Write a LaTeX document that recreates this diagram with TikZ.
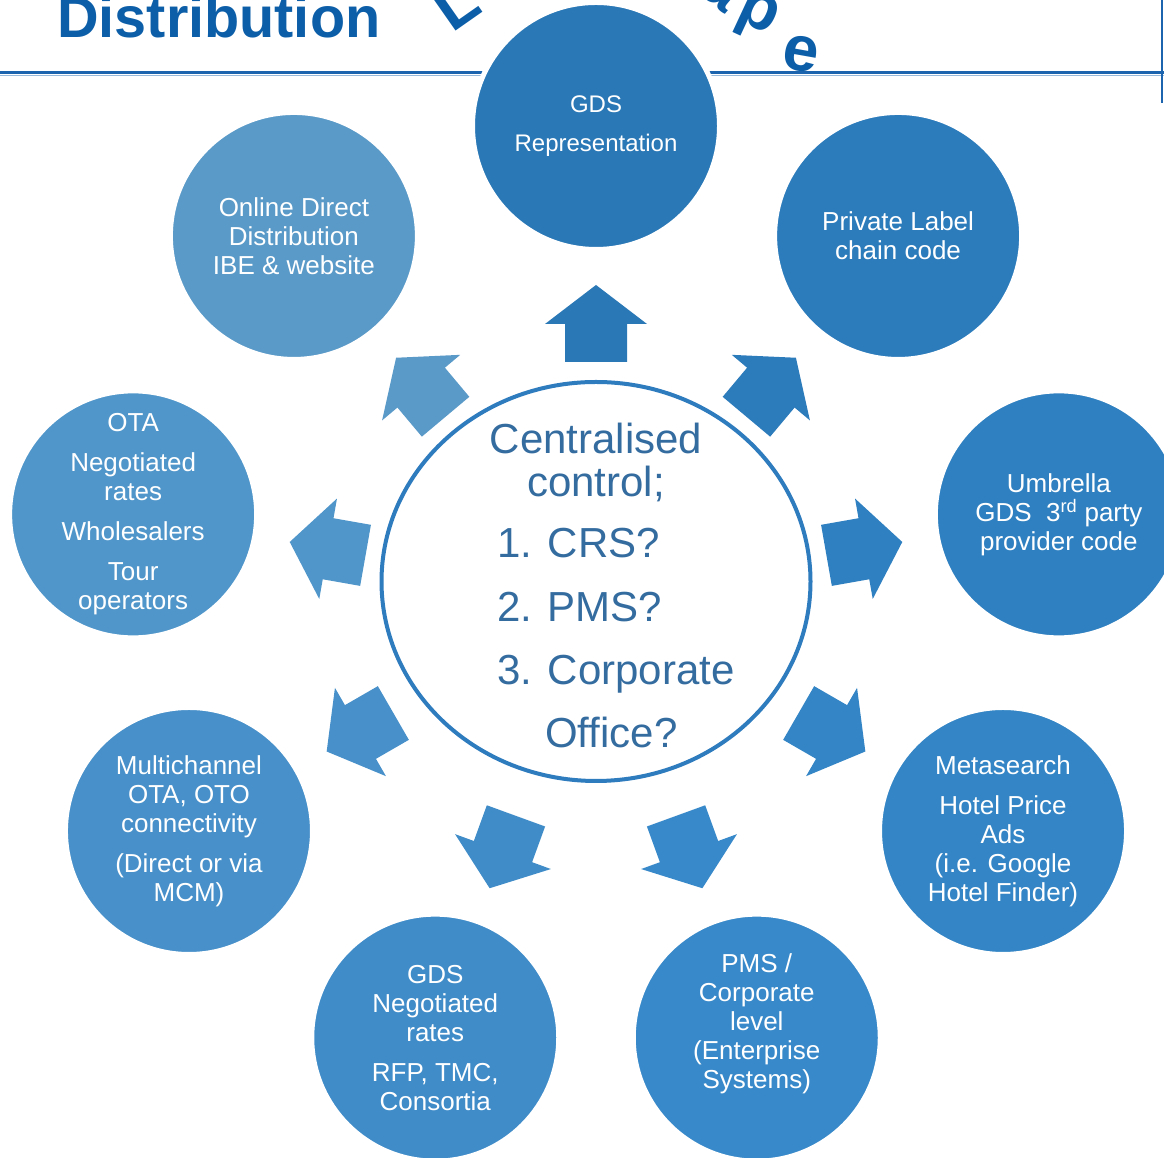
\documentclass[tikz,border=0pt]{standalone}
\usepackage{fontspec}
\setmainfont{Liberation Sans}
\usetikzlibrary{shapes.geometric}

\definecolor{titleblue}{RGB}{12,94,168}
\definecolor{ruleblue}{RGB}{28,100,174}
\definecolor{ringblue}{RGB}{46,123,190}
\definecolor{hubtext}{RGB}{52,108,160}
\definecolor{cgdsrep}{RGB}{42,120,182}
\definecolor{cprivate}{RGB}{44,123,187}
\definecolor{cumbrella}{RGB}{47,128,192}
\definecolor{cmeta}{RGB}{51,133,197}
\definecolor{cpms}{RGB}{56,137,201}
\definecolor{cgdsneg}{RGB}{63,140,201}
\definecolor{cmulti}{RGB}{71,144,201}
\definecolor{cota}{RGB}{80,150,202}
\definecolor{conline}{RGB}{90,154,200}

\begin{document}
\begin{tikzpicture}[x=1pt, y=1pt,
    bubble/.style={circle, fill=#1, draw=white, line width=5pt, minimum size=247pt,
      inner sep=0pt, text=white, align=center, font=\fontsize{26}{29}\selectfont},
    bubbletext/.style={inner sep=0pt, text=white, align=center, font=\fontsize{26}{29}\selectfont},
    wave/.style={inner sep=0pt, text=titleblue, font=\fontsize{64}{64}\selectfont\bfseries},
    hubline/.style={inner sep=0pt, text=hubtext, font=\fontsize{42}{48}\selectfont}]
    \useasboundingbox (0,0) rectangle (1164,1158);

    % heading strip
    \node[anchor=base west, inner sep=0pt, text=titleblue, font=\fontsize{57.6}{60}\selectfont\bfseries] (title) at (57,1120) {Distribution};
    \node[wave, anchor=base west, rotate=35] (wordL) at (452,1124) {L};
    \node[wave, rotate=-40] (worda) at (722,1168) {a};
    \node[wave, rotate=-25] (wordp) at (757,1141) {p};
    \node[wave, rotate=-10] (worde) at (801,1104) {e};
    \draw[ruleblue!45, line width=1.5pt] (0,1082.5) -- (1164,1082.5);
    \draw[ruleblue, line width=2.5pt] (0,1085.5) -- (1164,1085.5);
    \draw[ruleblue, line width=2pt] (1162,1158) -- (1162,1055);

    \begin{scope}[shift={(596,562)}]
        % block arrows
        \foreach \ang/\col in {90/cgdsrep, 50/cprivate, 10/cumbrella, -30/cmeta, -70/cpms,
                               -110/cgdsneg, -150/cmulti, 170/cota, 130/conline}
            \fill[\col, rotate=\ang] (234,-31) -- (272,-31) -- (272,-51) -- (311,0)
                -- (272,51) -- (272,31) -- (234,31) -- cycle;

        % outer circles
        \node[bubble=cgdsrep, font=\fontsize{24}{29}\selectfont] (gdsrep) at (90:470) {GDS\\[10pt]Representation};
        \node[bubble=cprivate] (private) at (50:470) {Private Label\\chain code};
        \node[bubble=cumbrella] (umbrella) at (10:470) {Umbrella\\GDS\ \ 3\textsuperscript{rd} party\\provider code};
        \node[bubble=cmeta] (meta) at (-30:470) {Metasearch\\[11pt]Hotel Price\\Ads\\(i.e. Google\\Hotel Finder)};
        \node[bubble=cpms] (pms) at (-70:470) {};
        \node[bubbletext] (pmstext) at ([yshift=14pt]pms.center) {PMS /\\Corporate\\level\\(Enterprise\\Systems)};
        \node[bubble=cgdsneg] (gdsneg) at (-110:470) {GDS\\Negotiated\\rates\\[11pt]RFP, TMC,\\Consortia};
        \node[bubble=cmulti] (multi) at (-150:470) {Multichannel\\OTA, OTO\\connectivity\\[11pt](Direct or via\\MCM)};
        \node[bubble=cota] (ota) at (170:470) {OTA\\[11pt]Negotiated\\rates\\[11pt]Wholesalers\\[11pt]Tour\\operators};
        \node[bubble=conline] (online) at (130:470) {Online Direct\\Distribution\\IBE \& website};

        % centre
        \node[ellipse, draw=ringblue, line width=4pt, fill=white, minimum width=429pt, minimum height=399pt] (hub) at (0,14.5) {};
        \node[hubline, anchor=base] (hubA) at (0,142) {Centralised};
        \node[hubline, anchor=base] (hubB) at (0,99) {control;};
        \node[hubline, anchor=base west] (item1) at (-99,38) {1. CRS?};
        \node[hubline, anchor=base west] (item2) at (-99,-26) {2. PMS?};
        \node[hubline, anchor=base west] (item3) at (-99,-89) {3. Corporate};
        \node[hubline, anchor=base west] (item3b) at (-51,-152) {Office?};
    \end{scope}
\end{tikzpicture}
\end{document}
